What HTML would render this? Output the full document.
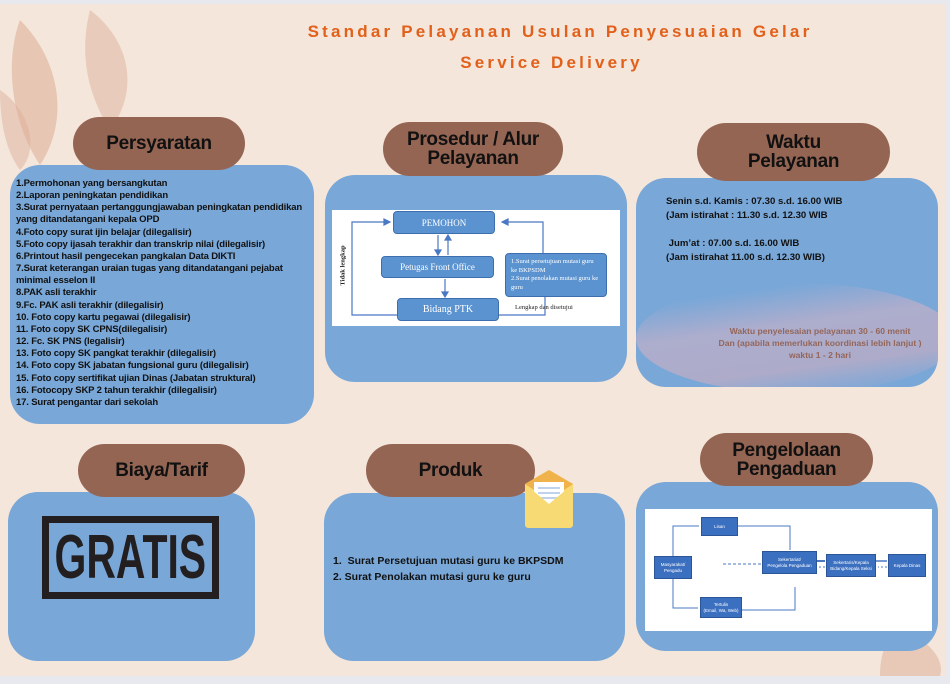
<!DOCTYPE html>
<html><head><meta charset="utf-8">
<style>
*{margin:0;padding:0;box-sizing:border-box}
body{width:950px;height:684px;overflow:hidden;background:#f4e6da;font-family:"Liberation Sans",sans-serif;position:relative}
.a{position:absolute}
.pill{position:absolute;background:#956554;border-radius:30px;color:#111;font-weight:700;font-size:19px;text-align:center;display:flex;align-items:center;justify-content:center;line-height:19px;letter-spacing:-0.3px}
.panel{position:absolute;background:#78a7d8;border-radius:30px}
.list{font-size:9.5px;font-weight:bold;line-height:12.15px;color:#111}
.box{position:absolute;background:#5b93d0;border:1px solid #3d6fae;color:#fff;font-family:"Liberation Serif",serif;font-size:9px;display:flex;align-items:center;justify-content:center;border-radius:4px}
.sb{position:absolute;background:#3b6fc0;border:1px solid #2b5596;color:#fff;font-size:4.5px;display:flex;align-items:center;justify-content:center;text-align:center;line-height:6px}
</style></head><body>
<div class="a" style="left:0;top:0;width:950px;height:4px;background:#e8e9ef"></div>
<div class="a" style="left:946px;top:0;width:4px;height:684px;background:#e8e9ef"></div>
<div class="a" style="left:0;top:676px;width:950px;height:8px;background:#e8e9ef"></div>
<svg class="a" style="left:0;top:0" width="950" height="684">
<path d="M20 20 C60 60 70 120 40 165 C10 120 5 60 20 20Z" fill="#dcab95" opacity=".55"/>
<path d="M90 10 C130 40 140 90 110 130 C85 90 80 50 90 10Z" fill="#dcab95" opacity=".45"/>
<path d="M0 90 C30 110 40 150 20 170 C5 150 0 120 0 90Z" fill="#dcab95" opacity=".45"/>
<path d="M900 630 C930 640 945 660 940 676 L880 676 C880 655 885 640 900 630Z" fill="#dcab95" opacity=".5"/>
</svg>
<div class="a" style="left:0;top:22px;width:1120px;text-align:center;color:#e2601a;font-weight:bold;font-size:17px;letter-spacing:3.2px">Standar Pelayanan Usulan Penyesuaian Gelar</div>
<div class="a" style="left:0;top:53px;width:1103px;text-align:center;color:#e2601a;font-weight:bold;font-size:17px;letter-spacing:3.2px">Service Delivery</div>

<!-- Persyaratan -->
<div class="panel" style="left:10px;top:165px;width:304px;height:259px"></div>
<div class="pill" style="left:73px;top:117px;width:172px;height:53px">Persyaratan</div>
<div class="a list" style="left:16px;top:178px;width:298px;letter-spacing:-0.15px">1.Permohonan yang bersangkutan<br>2.Laporan peningkatan pendidikan<br>3.Surat pernyataan pertanggungjawaban peningkatan pendidikan<br>yang ditandatangani kepala OPD<br>4.Foto copy surat ijin belajar (dilegalisir)<br>5.Foto copy ijasah terakhir dan transkrip nilai (dilegalisir)<br>6.Printout hasil pengecekan pangkalan Data DIKTI<br>7.Surat keterangan uraian tugas yang ditandatangani pejabat<br>minimal esselon II<br>8.PAK asli terakhir<br>9.Fc. PAK asli terakhir (dilegalisir)<br>10. Foto copy kartu pegawai (dilegalisir)<br>11. Foto copy SK CPNS(dilegalisir)<br>12. Fc. SK PNS (legalisir)<br>13. Foto copy SK pangkat terakhir (dilegalisir)<br>14. Foto copy SK jabatan fungsional guru (dilegalisir)<br>15. Foto copy sertifikat ujian Dinas (Jabatan struktural)<br>16. Fotocopy SKP 2 tahun terakhir (dilegalisir)<br>17. Surat pengantar dari sekolah</div>

<!-- Prosedur -->
<div class="panel" style="left:325px;top:175px;width:302px;height:207px"></div>
<div class="pill" style="left:383px;top:122px;width:180px;height:54px">Prosedur / Alur<br>Pelayanan</div>
<div class="a" style="left:332px;top:210px;width:288px;height:116px;background:#fff"></div>
<svg class="a" style="left:0;top:0" width="950" height="684">
<g stroke="#4a78c4" stroke-width="1.2" fill="#4a78c4">
<path d="M397 315 L352 315 L352 222 L386 222" fill="none"/><path d="M384 219 L390 222 L384 225Z"/>
<path d="M499 315 L545 315 L545 297" fill="none"/>
<path d="M543 253 L543 222 L506 222" fill="none"/><path d="M508 219 L502 222 L508 225Z"/>
<path d="M438 235 L438 251" fill="none"/><path d="M435 250 L438 255 L441 250Z"/>
<path d="M448 255 L448 239" fill="none"/><path d="M445 240 L448 235 L451 240Z"/>
<path d="M445 279 L445 293" fill="none"/><path d="M442 292 L445 297 L448 292Z"/>
</g></svg>
<div class="box" style="left:393px;top:211px;width:102px;height:23px">PEMOHON</div>
<div class="box" style="left:381px;top:256px;width:113px;height:22px">Petugas Front Office</div>
<div class="box" style="left:397px;top:298px;width:102px;height:23px;font-size:10px">Bidang PTK</div>
<div class="box" style="left:505px;top:253px;width:102px;height:44px;display:block;font-size:6.5px;padding:4px 5px;line-height:8.5px;text-align:left">1.Surat persetujuan mutasi guru ke BKPSDM<br>2.Surat penolakan mutasi guru ke guru</div>
<div class="a" style="left:515px;top:304px;font-family:'Liberation Serif',serif;font-size:6.5px;color:#222">Lengkap dan disetujui</div>
<div class="a" style="left:323px;top:262px;transform:rotate(-90deg);font-family:'Liberation Serif',serif;font-size:6.5px;color:#222;white-space:nowrap;font-weight:bold">Tidak lengkap</div>

<!-- Waktu -->
<div class="panel" style="left:636px;top:178px;width:302px;height:209px;overflow:hidden">
<div class="a" style="left:0;top:105px;width:320px;height:110px;background:linear-gradient(172deg,transparent 15%,#d8b2c4 40%,#d9aebd 70%,transparent 92%);opacity:.55;border-radius:50%"></div></div>
<div class="pill" style="left:697px;top:123px;width:193px;height:58px">Waktu<br>Pelayanan</div>
<div class="a list" style="left:666px;top:195px;font-size:9.6px;line-height:14px">Senin s.d. Kamis : 07.30 s.d. 16.00 WIB<br>(Jam istirahat : 11.30 s.d. 12.30 WIB<br><br>&nbsp;Jum’at : 07.00 s.d. 16.00 WIB<br>(Jam istirahat 11.00 s.d. 12.30 WIB)</div>
<div class="a" style="left:710px;top:325px;width:220px;text-align:center;color:#94665a;font-size:8.6px;font-weight:bold;line-height:12px">Waktu penyelesaian pelayanan 30 - 60 menit<br>Dan (apabila memerlukan koordinasi lebih lanjut )<br>waktu 1 - 2 hari</div>

<!-- Biaya -->
<div class="panel" style="left:8px;top:492px;width:247px;height:169px"></div>
<div class="pill" style="left:78px;top:444px;width:167px;height:53px">Biaya/Tarif</div>
<div class="a" style="left:42px;top:516px;width:177px;height:83px;border:7px solid #231f20"></div>
<div class="a" style="left:0;top:523px;width:261px;height:69px;color:#231f20;font-weight:bold;font-size:62px;text-align:center;line-height:69px;transform:scaleX(0.66);transform-origin:130px 0">GRATIS</div>

<!-- Produk -->
<div class="panel" style="left:324px;top:493px;width:301px;height:168px"></div>
<div class="pill" style="left:366px;top:444px;width:169px;height:53px">Produk</div>
<svg class="a" style="left:521px;top:470px" width="60" height="60">
<path d="M4 14 L28 0 L52 14 L52 54 Q52 58 48 58 L8 58 Q4 58 4 54Z" fill="#f7da73"/>
<path d="M4 14 L28 0 L52 14 L28 30Z" fill="#f0b24a"/>
<rect x="13" y="12" width="30" height="24" fill="#fff"/>
<path d="M17 18 H39 M17 23 H39 M17 28 H39" stroke="#a9c4e6" stroke-width="1.5"/>
<path d="M4 14 L28 34 L52 14 L52 54 Q52 58 48 58 L8 58 Q4 58 4 54Z" fill="#f7da73"/>
</svg>
<div class="a list" style="left:333px;top:553px;font-size:10.5px;line-height:16px">1.&nbsp; Surat Persetujuan mutasi guru ke BKPSDM<br>2. Surat Penolakan mutasi guru ke guru</div>

<!-- Pengaduan -->
<div class="panel" style="left:636px;top:482px;width:302px;height:169px"></div>
<div class="pill" style="left:700px;top:433px;width:173px;height:53px">Pengelolaan<br>Pengaduan</div>
<div class="a" style="left:645px;top:509px;width:287px;height:122px;background:#fff"></div>
<svg class="a" style="left:0;top:0" width="950" height="684">
<g stroke="#4a78c4" stroke-width="1" fill="none">
<path d="M673 556 L673 526 L699 526"/><path d="M673 579 L673 608 L698 608"/>
<path d="M738 526 L790 526 L790 550"/><path d="M742 610 L795 610 L795 587"/>
<path d="M761 564 L722 564" stroke-dasharray="3 2"/>
<path d="M817 561 L825 561" stroke-width="2"/><path d="M825 567 L817 567" stroke-dasharray="2 2"/>
<path d="M876 561 L887 561" stroke-width="1.5"/><path d="M887 567 L878 567" stroke-dasharray="2 2"/>
</g></svg>
<div class="sb" style="left:654px;top:556px;width:38px;height:23px">Masyarakat/<br>Pengadu</div>
<div class="sb" style="left:701px;top:517px;width:37px;height:19px">Lisan</div>
<div class="sb" style="left:700px;top:597px;width:42px;height:21px">Tertulis<br>(Email, Wa, Web)</div>
<div class="sb" style="left:762px;top:551px;width:55px;height:23px">Sekertariat/<br>Pengelola Pengaduan</div>
<div class="sb" style="left:826px;top:554px;width:50px;height:23px">Sekertaris/Kepala<br>Bidang/Kepala Seksi</div>
<div class="sb" style="left:888px;top:554px;width:38px;height:23px">Kepala Dinas</div>
</body></html>
